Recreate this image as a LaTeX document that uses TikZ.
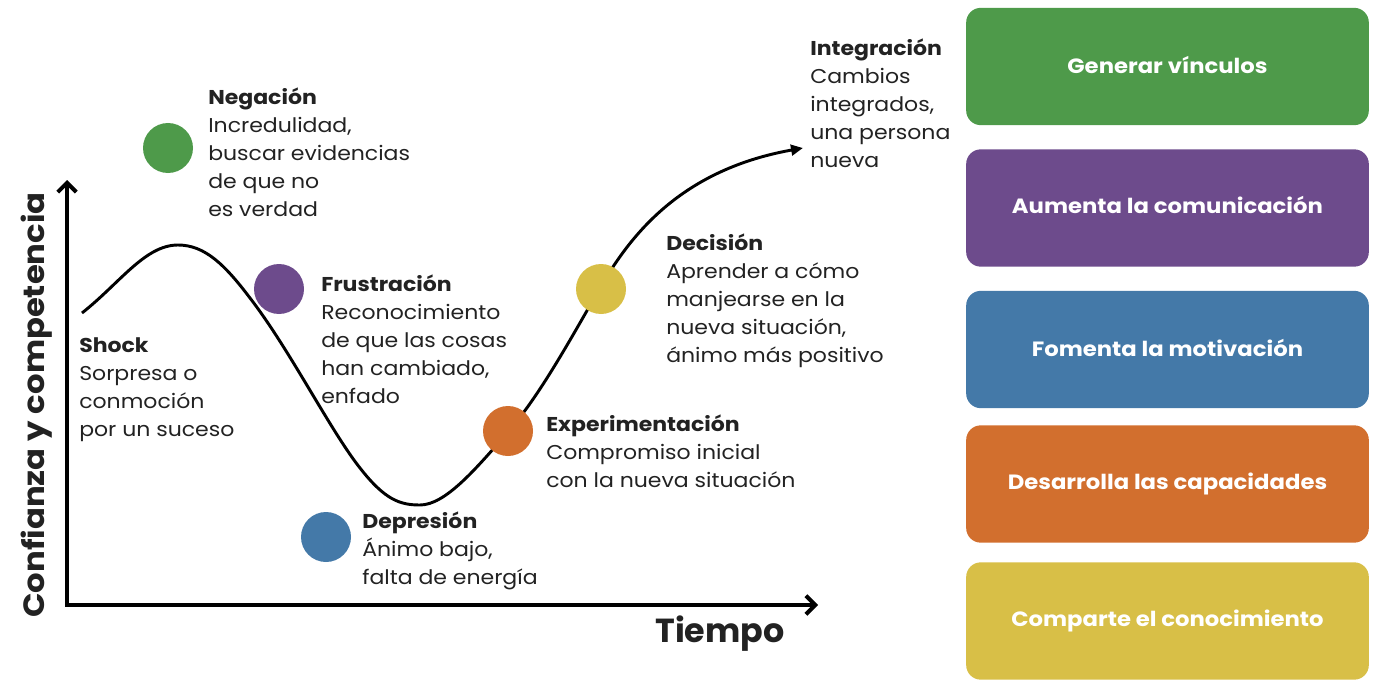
\documentclass[tikz,border=0pt]{standalone}
\usepackage{fontspec}
\setmainfont{Poppins}[FakeStretch=1.1]
\newfontfamily\plainpop{Poppins}
\usetikzlibrary{arrows.meta}
\definecolor{cgreen}{HTML}{4E9A4A}
\definecolor{cpurple}{HTML}{6D4B8C}
\definecolor{cblue}{HTML}{4479A8}
\definecolor{corange}{HTML}{D26F2E}
\definecolor{cyellow}{HTML}{D8BF47}
\definecolor{ctext}{HTML}{222222}
\newcommand\fstrut{\rule{0pt}{12pt}}
\tikzset{
  lbl/.style={anchor=north west, inner sep=0pt, align=left, text=ctext,
    font=\fontsize{15}{21}\selectfont},
  dot/.style={circle, inner sep=0pt, minimum size=37.5pt},
  bigbox/.style={rectangle, rounded corners=11pt, inner sep=0pt,
    minimum width=302pt, minimum height=88pt, text=white,
    font=\bfseries\fontsize{15.5}{18}\selectfont},
  axis/.style={line width=3pt, line join=miter,
    {Straight Barb[length=7pt,width=14pt,line width=3pt]}-{Straight Barb[length=7pt,width=14pt,line width=3pt]}},
  curve/.style={line width=2.2pt, -{Triangle[length=9pt,width=8pt]}}
}
\begin{document}
\begin{tikzpicture}[x=0.75pt,y=-0.75pt]
\useasboundingbox (0,0) rectangle (1386,692);
% axes
\coordinate (ytip) at (67,180);
\coordinate (O) at (67,605);
\coordinate (xtip) at (818,605);
\draw[axis] (ytip) -- (O) -- (xtip);
\node[rotate=90, font=\bfseries\fontsize{22}{26}\selectfont, text=ctext] (ylab) at (37,405) {Confianza y competencia};
\node[anchor=base, font=\plainpop\bfseries\fontsize{25}{30}\selectfont, text=ctext] (xlab) at (720,642) {Tiempo};
% curve
\coordinate (c0) at (82,313);
\coordinate (cpeak) at (178,245);
\coordinate (c2) at (250,298);
\coordinate (c3) at (360,468);
\coordinate (cbot) at (420,505);
\coordinate (c5) at (508,432);
\coordinate (c6) at (600,288);
\coordinate (cend) at (803,148);
\draw[curve] (c0) .. controls (120,283) and (145,245) .. (cpeak)
  .. controls (205,245) and (225,265) .. (c2)
  .. controls (290,350) and (330,430) .. (c3)
  .. controls (385,500) and (400,505) .. (cbot)
  .. controls (445,505) and (475,470) .. (c5)
  .. controls (540,395) and (570,340) .. (c6)
  .. controls (630,236) and (680,170) .. (cend);
% dots
\node[dot, fill=cgreen] (dneg) at (168,148) {};
\node[dot, fill=cpurple] (dfrus) at (279,289) {};
\node[dot, fill=cblue] (ddep) at (326,537) {};
\node[dot, fill=corange] (dexp) at (508,431) {};
\node[dot, fill=cyellow] (ddec) at (601,289) {};
% labels
\node[lbl] (neg) at (208,88) {\fstrut\textbf{Negación}\\Incredulidad,\\buscar evidencias\\de que no\\es verdad};
\node[lbl] (shock) at (79,336) {\fstrut\textbf{Shock}\\Sorpresa o\\conmoción\\por un suceso};
\node[lbl] (frus) at (321,275) {\fstrut\textbf{Frustración}\\Reconocimiento\\de que las cosas\\han cambiado,\\enfado};
\node[lbl] (dep) at (362,512) {\fstrut\textbf{Depresión}\\Ánimo bajo,\\falta de energía};
\node[lbl] (exp) at (546,415) {\fstrut\textbf{Experimentación}\\Compromiso inicial\\con la nueva situación};
\node[lbl] (dec) at (666,234) {\fstrut\textbf{Decisión}\\Aprender a cómo\\manjearse en la\\nueva situación,\\ánimo más positivo};
\node[lbl] (integ) at (810,39) {\fstrut\textbf{Integración}\\Cambios\\integrados,\\una persona\\nueva};
% boxes
\node[bigbox, fill=cgreen] (b1) at (1167.5,66.5) {\raisebox{2pt}{Generar vínculos}};
\node[bigbox, fill=cpurple] (b2) at (1167.5,208) {\raisebox{4pt}{Aumenta la comunicación}};
\node[bigbox, fill=cblue] (b3) at (1167.5,349.5) {\raisebox{3pt}{Fomenta la motivación}};
\node[bigbox, fill=corange] (b4) at (1167.5,484) {\raisebox{2pt}{Desarrolla las capacidades}};
\node[bigbox, fill=cyellow] (b5) at (1167.5,621) {\raisebox{1pt}{Comparte el conocimiento}};
\end{tikzpicture}
\end{document}
